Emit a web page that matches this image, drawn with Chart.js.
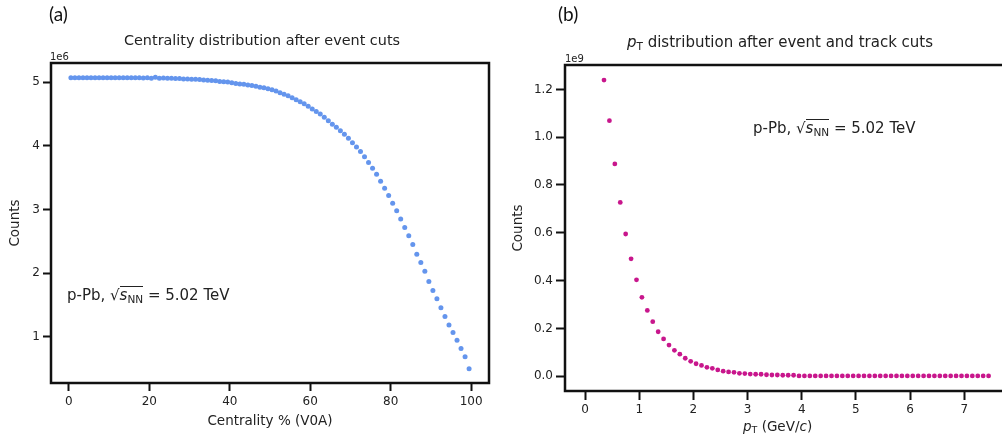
<!DOCTYPE html>
<html>
<head>
<meta charset="utf-8">
<script src="https://cdn.jsdelivr.net/npm/chart.js@4/dist/chart.umd.min.js"></script>
<style>
  html, body { margin: 0; padding: 0; width: 1002px; height: 442px; overflow: hidden; background: #fff; }
  body { position: relative; font-family: 'DejaVu Sans', sans-serif; color: #222; }
  canvas { position: absolute; top: 0; }
  #cvA { left: 0; }
  #cvB { left: 500px; }
  .txt { position: absolute; white-space: nowrap; line-height: 1; }
  .panel { font-family: Lato, 'Open Sans', sans-serif; font-size: 19px; color: #111; }
  .ttl { font-size: 14.4px; transform: translateX(-50%); }
  .off { font-size: 10px; }
  .ann { font-size: 15px; }
  .sq { display: inline-block; border-top: 1px solid #222; padding-top: 1px; line-height: 1; }
  sub { font-size: 0.7em; vertical-align: -0.25em; line-height: 0; }
</style>
</head>
<body>
<canvas id="cvA" width="500" height="442"></canvas>
<canvas id="cvB" width="520" height="442"></canvas>

<div class="txt panel" style="left:49px; top:4px;">(a)</div>
<div class="txt panel" style="left:558px; top:4px;">(b)</div>
<div class="txt ttl" style="left:262px; top:33px;">Centrality distribution after event cuts</div>
<div class="txt ttl" style="left:780px; top:35px; font-size:15px;"><i>p</i><sub>T</sub> distribution after event and track cuts</div>
<div class="txt off" style="left:50px; top:52px;">1e6</div>
<div class="txt off" style="left:565px; top:54px;">1e9</div>
<div class="txt ann" style="left:67px; top:286px;">p-Pb, √<span class="sq"><i>s</i><sub>NN</sub></span> = 5.02 TeV</div>
<div class="txt ann" style="left:753px; top:119px;">p-Pb, √<span class="sq"><i>s</i><sub>NN</sub></span> = 5.02 TeV</div>
<div class="txt" style="left:743px; top:420px; font-size:13.5px;"><i>p</i><sub>T</sub> (GeV/<i>c</i>)</div>

<script>
// (a) centrality bins (%) and counts in units of 1e6
const centralityBins = [
  0.5, 1.5, 2.5, 3.5, 4.5, 5.5, 6.5, 7.5, 8.5, 9.5,
  10.5, 11.5, 12.5, 13.5, 14.5, 15.5, 16.5, 17.5, 18.5, 19.5,
  20.5, 21.5, 22.5, 23.5, 24.5, 25.5, 26.5, 27.5, 28.5, 29.5,
  30.5, 31.5, 32.5, 33.5, 34.5, 35.5, 36.5, 37.5, 38.5, 39.5,
  40.5, 41.5, 42.5, 43.5, 44.5, 45.5, 46.5, 47.5, 48.5, 49.5,
  50.5, 51.5, 52.5, 53.5, 54.5, 55.5, 56.5, 57.5, 58.5, 59.5,
  60.5, 61.5, 62.5, 63.5, 64.5, 65.5, 66.5, 67.5, 68.5, 69.5,
  70.5, 71.5, 72.5, 73.5, 74.5, 75.5, 76.5, 77.5, 78.5, 79.5,
  80.5, 81.5, 82.5, 83.5, 84.5, 85.5, 86.5, 87.5, 88.5, 89.5,
  90.5, 91.5, 92.5, 93.5, 94.5, 95.5, 96.5, 97.5, 98.5, 99.5
];
const centralityCounts = [
  5.07, 5.07, 5.07, 5.07, 5.07, 5.07, 5.07, 5.07, 5.07, 5.07,
  5.07, 5.07, 5.07, 5.07, 5.07, 5.07, 5.07, 5.07, 5.065, 5.07,
  5.06, 5.075, 5.06, 5.065, 5.06, 5.06, 5.055, 5.055, 5.05, 5.05,
  5.045, 5.045, 5.04, 5.035, 5.03, 5.025, 5.02, 5.01, 5.005, 5.00,
  4.99, 4.98, 4.97, 4.965, 4.955, 4.945, 4.935, 4.92, 4.91, 4.895,
  4.88, 4.86, 4.835, 4.81, 4.785, 4.755, 4.725, 4.69, 4.66, 4.62,
  4.58, 4.54, 4.50, 4.45, 4.395, 4.34, 4.29, 4.235, 4.18, 4.12,
  4.05, 3.98, 3.91, 3.83, 3.74, 3.65, 3.555, 3.445, 3.335, 3.22,
  3.10, 2.98, 2.85, 2.72, 2.59, 2.45, 2.30, 2.17, 2.03, 1.87,
  1.73, 1.60, 1.46, 1.32, 1.19, 1.07, 0.95, 0.82, 0.69, 0.50
];
const centralityTicksX = [0, 20, 40, 60, 80, 100];
const centralityTicksY = [1, 2, 3, 4, 5];

// (b) pT bins (GeV/c) and counts in units of 1e9
const ptBins = [
  0.35, 0.45, 0.55, 0.65, 0.75, 0.85, 0.95, 1.05, 1.15, 1.25,
  1.35, 1.45, 1.55, 1.65, 1.75, 1.85, 1.95, 2.05, 2.15, 2.25,
  2.35, 2.45, 2.55, 2.65, 2.75, 2.85, 2.95, 3.05, 3.15, 3.25,
  3.35, 3.45, 3.55, 3.65, 3.75, 3.85, 3.95, 4.05, 4.15, 4.25,
  4.35, 4.45, 4.55, 4.65, 4.75, 4.85, 4.95, 5.05, 5.15, 5.25,
  5.35, 5.45, 5.55, 5.65, 5.75, 5.85, 5.95, 6.05, 6.15, 6.25,
  6.35, 6.45, 6.55, 6.65, 6.75, 6.85, 6.95, 7.05, 7.15, 7.25,
  7.35, 7.45
];
const ptCounts = [
  1.239, 1.069, 0.888, 0.727, 0.595, 0.491, 0.403, 0.330, 0.275, 0.228,
  0.186, 0.156, 0.130, 0.108, 0.092, 0.075, 0.062, 0.052, 0.045, 0.037,
  0.033, 0.026, 0.021, 0.018, 0.016, 0.012, 0.011, 0.009, 0.008, 0.008,
  0.006, 0.005, 0.005, 0.004, 0.004, 0.004, 0.001, 0.001, 0.001, 0.001,
  0.001, 0.001, 0.001, 0.001, 0.001, 0.001, 0.001, 0.001, 0.001, 0.001,
  0.001, 0.001, 0.001, 0.001, 0.001, 0.001, 0.001, 0.001, 0.001, 0.001,
  0.001, 0.001, 0.001, 0.001, 0.001, 0.001, 0.001, 0.001, 0.001, 0.001,
  0.001, 0.001
];
const ptTicksX = [0, 1, 2, 3, 4, 5, 6, 7];
const ptTicksY = [0, 0.2, 0.4, 0.6, 0.8, 1.0, 1.2];

// full black frame round the plot area (matplotlib spines)
const frame = {
  id: 'frame',
  afterDatasetsDraw(chart) {
    const a = chart.chartArea, c = chart.ctx;
    c.save();
    c.strokeStyle = '#111';
    c.lineWidth = 2.5;
    c.strokeRect(a.left, a.top, a.right - a.left, a.bottom - a.top);
    c.restore();
  }
};

function makeChart(id, xs, ys, color, o) {
  const pts = xs.map((x, i) => ({ x, y: ys[i] }));
  return new Chart(document.getElementById(id), {
    type: 'scatter',
    data: { datasets: [{ data: pts, backgroundColor: color, borderWidth: 0, pointRadius: o.r, pointHoverRadius: o.r }] },
    options: {
      responsive: false, animation: false, events: [],
      layout: { padding: o.pad },
      plugins: { legend: { display: false }, tooltip: { enabled: false } },
      scales: {
        x: {
          type: 'linear', min: o.xmin, max: o.xmax,
          afterBuildTicks: s => { s.ticks = o.xt.map(v => ({ value: v })); },
          afterFit: s => { s.height = o.xh; },
          grid: { drawOnChartArea: false, drawTicks: true, tickLength: o.tl, tickWidth: 2, tickColor: '#111' },
          border: { display: false },
          ticks: { color: '#222', padding: o.xtp, maxRotation: 0, font: { family: 'DejaVu Sans', size: 12 }, callback: v => String(v) },
          title: { display: !!o.xtitle, text: o.xtitle, color: '#222', font: { family: 'DejaVu Sans', size: 13.5 }, padding: { top: 0, bottom: o.xtpad } }
        },
        y: {
          type: 'linear', min: o.ymin, max: o.ymax,
          afterBuildTicks: s => { s.ticks = o.yt.map(v => ({ value: v })); },
          afterFit: s => { s.width = o.yw; },
          grid: { drawOnChartArea: false, drawTicks: true, tickLength: o.tl, tickWidth: 2, tickColor: '#111' },
          border: { display: false },
          ticks: { color: '#222', padding: 3, font: { family: 'DejaVu Sans', size: 12 }, callback: o.yfmt },
          title: { display: true, text: 'Counts', color: '#222', font: { family: 'DejaVu Sans', size: 13.5 }, padding: { top: o.ytpad, bottom: 0 } }
        }
      }
    },
    plugins: [frame]
  });
}

makeChart('cvA', centralityBins, centralityCounts, '#6495ED', {
  r: 2.5, pad: { left: 0, top: 63, right: 11, bottom: 0 },
  xmin: -4.45, xmax: 104.45, ymin: 0.278, ymax: 5.30,
  xt: centralityTicksX, yt: centralityTicksY,
  xh: 59, yw: 51, tl: 8, xtp: 4,
  xtitle: 'Centrality % (V0A)', xtpad: 12, ytpad: 7,
  yfmt: v => String(v)
});

makeChart('cvB', ptBins, ptCounts, '#C8168C', {
  r: 2.4, pad: { left: 0, top: 65, right: 13, bottom: 0 },
  xmin: -0.37, xmax: 7.79, ymin: -0.062, ymax: 1.302,
  xt: ptTicksX, yt: ptTicksY,
  xh: 51, yw: 65, tl: 9, xtp: 3,
  xtitle: '', xtpad: 0, ytpad: 10,
  yfmt: v => v.toFixed(1)
});
</script>
</body>
</html>
